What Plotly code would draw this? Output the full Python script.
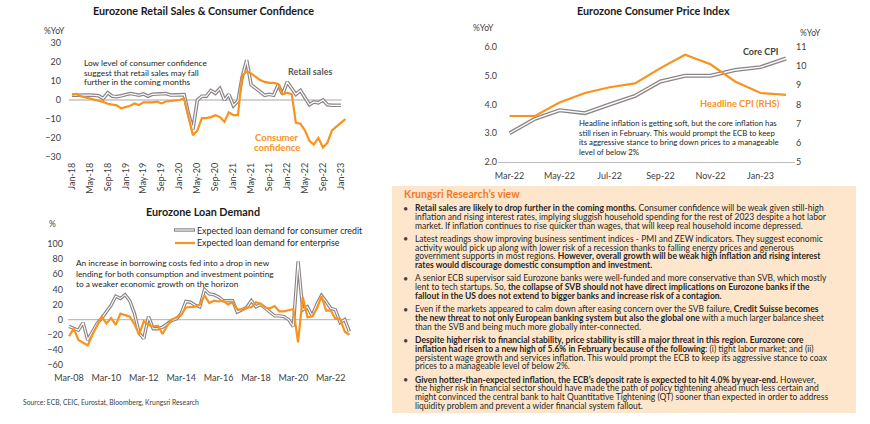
import plotly.graph_objects as go
import pandas as pd

W, H = 870, 424
FONT = "Lato"
ORANGE = "#F7931E"
GRAY_OUT = "#8c8484"
TXT = "#404040"
DARK = "#262626"


def px(x):
    return x / W


def py(y):
    return 1 - y / H


# ---------------- Data ----------------
# Eurozone retail sales & consumer confidence (%YoY, monthly)
retail_months = pd.date_range("2018-01-01", "2023-01-01", freq="MS")
retail_sales = [2.5, 2.6, 2.4, 2.5, 2.6, 2.5, 2.2, 0.8, 3.8, 2.0, 1.8, 2.2,
                3.0, 3.4, 3.0, 2.5, 3.2, 2.0, 3.0, 3.0, 3.2, 3.4, 2.6, 2.6,
                2.8, 2.8, -7.0, -15.5, 0.0, 2.0, 2.0, 5.0, 3.5, 6.0, 0.0, 3.0,
                -3.0, -0.5, 12.0, 21.0, 8.0, 6.0, 4.5, 2.5, 3.0, 2.5, 8.0, 3.0,
                9.5, 6.0, 3.0, 5.0, 1.0, -2.5, -1.0, -1.5, 0.0, -2.5, -2.8, -2.8,
                -2.8]
conf_months = pd.date_range("2018-01-01", "2023-02-01", freq="MS")
consumer_conf = [2.8, 3.2, 2.0, 1.4, 0.5, 0.0, -0.5, -1.0, -2.0, -2.3, -2.8, -4.4,
                 -3.7, -3.0, -1.8, -2.6, -1.2, -1.3, -1.2, -0.9, -1.8, -0.8, -0.5, 0.0,
                 0.0, 0.8, -8.0, -18.5, -16.0, -9.5, -9.5, -9.0, -8.0, -9.0, -11.5, -6.5,
                 -8.0, -8.0, 13.0, 15.0, 14.0, 12.0, 10.5, 9.5, 9.0, 9.0, 8.5, 3.0,
                 3.8, 3.0, -12.0, -12.5, -16.0, -21.5, -23.5, -20.0, -25.0, -22.5, -16.0, -14.0,
                 -12.0, -10.0]

# Eurozone CPI (%YoY)
cpi_months = pd.date_range("2022-03-01", "2023-02-01", freq="MS")
core_cpi = [3.0, 3.5, 3.8, 3.7, 4.0, 4.3, 4.8, 5.0, 5.0, 5.2, 5.3, 5.6]
headline_cpi = [7.4, 7.4, 8.1, 8.6, 8.9, 9.1, 9.9, 10.6, 10.1, 9.2, 8.6, 8.5]

# Eurozone loan demand (%, quarterly)
loan_quarters = pd.date_range("2008-03-01", periods=61, freq="3MS")
loan_consumer = [-9, -11, -14, -4, -27, -16, -5, 2, 11, 19, 31, 28, 33, 25, 8, -18,
                 -25, 4, -12, -12, -10, -5, -1, 1, 8, 24, 23, 19, 17, 40, 34, 33,
                 30, 25, 25, 25, 10, 13, 16, 25, 17, 20, 15, 10, 5, 5, 4, 0,
                 -9, 77, 13, 17, 5, 20, 32, 24, 15, 13, -4, 0, -16]
loan_enterprise = [-22, -12, -27, -31, -34, -20, -7, 4, -5, 2, -7, 8, 6, 4, -6, -20,
                   -2, -7, -9, -8, -19, -8, 0, 3, 6, 16, 16, 17, 20, 32, 22, 25,
                   24, 25, 20, 23, 14, 13, 16, 16, 23, 21, 16, 15, 18, 11, 11, 13,
                   14, -30, 30, 3, 4, 14, 31, 12, 12, 1, 1, -16, -20]

retail_yticks = [-30, -20, -10, 0, 10, 20, 30]
cpi_left_ticks = [2.0, 3.0, 4.0, 5.0, 6.0]
cpi_right_ticks = [5, 6, 7, 8, 9, 10, 11]
loan_yticks = [-60, -40, -20, 0, 20, 40, 60, 80, 100]

# ---------------- Figure ----------------
fig = go.Figure()


def double_line(x, y, xa, ya, w_out=3.6, w_in=1.2):
    fig.add_trace(go.Scatter(x=x, y=y, mode="lines", xaxis=xa, yaxis=ya,
                             line=dict(color=GRAY_OUT, width=w_out), hoverinfo="skip"))
    fig.add_trace(go.Scatter(x=x, y=y, mode="lines", xaxis=xa, yaxis=ya,
                             line=dict(color="white", width=w_in), hoverinfo="skip"))


# Retail chart
double_line(retail_months, retail_sales, "x", "y")
fig.add_trace(go.Scatter(x=conf_months, y=consumer_conf, mode="lines", xaxis="x", yaxis="y",
                         line=dict(color=ORANGE, width=2.2)))
# CPI chart
double_line(cpi_months, core_cpi, "x2", "y2", 4.0, 1.4)
fig.add_trace(go.Scatter(x=cpi_months, y=headline_cpi, mode="lines", xaxis="x2", yaxis="y3",
                         line=dict(color=ORANGE, width=2.2)))
# Loan chart
double_line(loan_quarters, loan_consumer, "x3", "y4", 3.4, 1.1)
fig.add_trace(go.Scatter(x=loan_quarters, y=loan_enterprise, mode="lines", xaxis="x3", yaxis="y4",
                         line=dict(color=ORANGE, width=2.2)))

tickfont = dict(family=FONT, size=9, color=TXT)
common = dict(showgrid=False, zeroline=False, ticks="", tickfont=tickfont, fixedrange=True,
              automargin=False)

layout_axes = dict(
    xaxis=dict(domain=[px(62), px(352)], range=["2017-10-25", "2023-03-17"], type="date",
               tick0="2018-01-01", dtick="M4", tickformat="%b-%y", tickangle=-90,
               anchor="y", showline=False, ticklabelstandoff=3, **common),
    yaxis=dict(domain=[py(157), py(43)], range=[-30, 30], tickvals=retail_yticks,
               anchor="x", showline=False, **common),
    xaxis2=dict(domain=[px(498), px(795)], range=["2022-02-15", "2023-02-12"], type="date",
                tick0="2022-03-01", dtick="M2", tickformat="%b-%y", anchor="y2",
                showline=True, linecolor="#bfbfbf", linewidth=1, ticklabelstandoff=5, **common),
    yaxis2=dict(domain=[py(162), py(47)], range=[2, 6], tickvals=cpi_left_ticks,
                tickformat=".1f", anchor="x2", showline=False, **common),
    yaxis3=dict(range=[5, 11], tickvals=cpi_right_ticks, overlaying="y2", side="right",
                anchor="x2", showline=False, **common),
    xaxis3=dict(domain=[px(64), px(356)], range=["2007-11-24", "2023-07-08"], type="date",
                tick0="2008-03-01", dtick="M24", tickformat="%b-%y", anchor="y4",
                showline=False, ticklabelstandoff=6, **common),
    yaxis4=dict(domain=[py(365), py(244)], range=[-60, 100], tickvals=loan_yticks,
                anchor="x3", showline=False, **common),
)

shapes = [
    dict(type="rect", xref="paper", yref="paper", x0=px(392), x1=px(856), y0=py(413), y1=py(186),
         fillcolor="#FDE6CB", line=dict(width=0), layer="below"),
    dict(type="line", xref="x", yref="y", x0="2017-12-10", x1="2023-01-05", y0=0, y1=0,
         line=dict(color="#a6a6a6", width=1), layer="below"),
    dict(type="line", xref="x3", yref="y4", x0="2008-02-10", x1="2023-03-25", y0=0, y1=0,
         line=dict(color="#bfbfbf", width=1.3), layer="below"),
    # legend samples (loan chart)
    dict(type="line", xref="paper", yref="paper", x0=px(174), x1=px(195), y0=py(230), y1=py(230),
         line=dict(color=GRAY_OUT, width=3.4)),
    dict(type="line", xref="paper", yref="paper", x0=px(175), x1=px(194), y0=py(230), y1=py(230),
         line=dict(color="white", width=1.1)),
    dict(type="line", xref="paper", yref="paper", x0=px(175), x1=px(195), y0=py(243), y1=py(243),
         line=dict(color=ORANGE, width=2.2)),
]

annotations = []


def txt(x, y, s, size=8.5, color=TXT, xanchor="left"):
    annotations.append(dict(x=px(x), y=py(y), xref="paper", yref="paper", text=s,
                            showarrow=False, xanchor=xanchor, yanchor="middle",
                            borderpad=0,
                            font=dict(family=FONT, size=size, color=color)))


# Titles
txt(203, 11, "<b>Eurozone Retail Sales & Consumer Confidence</b>", 10.8, "#1a1a1a", "center")
txt(653, 11, "<b>Eurozone Consumer Price Index</b>", 10.8, "#1a1a1a", "center")
txt(203, 211, "<b>Eurozone Loan Demand</b>", 10.8, "#1a1a1a", "center")

# Axis units
txt(54, 31, "%YoY", 8.5, TXT, "center")
txt(483, 28, "%YoY", 8.5, TXT, "center")
txt(810, 33, "%YoY", 8.5, TXT, "center")
txt(52, 224, "%", 8.5, TXT, "center")

# Retail chart notes
for i, line in enumerate(["Low level of consumer confidence",
                          "suggest that retail sales may fall",
                          "further in the coming months"]):
    txt(83, 63 + i * 9.6, line, 8.3, DARK)
txt(310, 72, "<b>Retail sales</b>", 9, "#595959", "center")
txt(277, 137, "<b>Consumer</b>", 9.5, ORANGE, "center")
txt(277, 147, "<b>confidence</b>", 9.5, ORANGE, "center")

# CPI notes
txt(760, 52, "<b>Core CPI</b>", 9, "#404040", "center")
txt(740, 104, "<b>Headline CPI (RHS)</b>", 9.3, ORANGE, "center")
for i, line in enumerate(["Headline inflation is getting soft, but the core inflation has",
                          "still risen in February. This would prompt the ECB to keep",
                          "its aggressive stance to bring down prices to a manageable",
                          "level of below 2%"]):
    txt(578, 123 + i * 9.6, line, 7.8, DARK)

# Loan chart legend + note
txt(196, 230, "Expected loan demand for consumer credit", 8.8, DARK)
txt(196, 243, "Expected loan demand for enterprise", 8.8, DARK)
for i, line in enumerate(["An increase in borrowing costs fed into a drop in new",
                          "lending for both consumption and investment pointing",
                          "to a weaker economic growth on the horizon"]):
    txt(75, 263 + i * 10.5, line, 8.3, DARK)

txt(22, 402, "Source: ECB, CEIC, Eurostat, Bloomberg, Krungsri Research", 6.8, TXT)

# Text panel
txt(403, 194, "<b>Krungsri Research\u2019s view</b>", 10.5, "#F47920")
bullets = [
    ["<b>Retail sales are likely to drop further in the coming months.</b> Consumer confidence will be weak given still-high",
     "inflation and rising interest rates, implying sluggish household spending for the rest of 2023 despite a hot labor",
     "market. If inflation continues to rise quicker than wages, that will keep real household income depressed."],
    ["Latest readings show improving business sentiment indices - PMI and ZEW indicators. They suggest economic",
     "activity would pick up along with lower risk of a recession thanks to falling energy prices and generous",
     "government supports in most regions. <b>However, overall growth will be weak high inflation and rising interest</b>",
     "<b>rates would discourage domestic consumption and investment.</b>"],
    ["A senior ECB supervisor said Eurozone banks were well-funded and more conservative than SVB, which mostly",
     "lent to tech startups. So, <b>the collapse of SVB should not have direct implications on Eurozone banks if the</b>",
     "<b>fallout in the US does not extend to bigger banks and increase risk of a contagion.</b>"],
    ["Even if the markets appeared to calm down after easing concern over the SVB failure, <b>Credit Suisse becomes</b>",
     "<b>the new threat to not only European banking system but also the global one</b> with a much larger balance sheet",
     "than the SVB and being much more globally inter-connected."],
    ["<b>Despite higher risk to financial stability, price stability is still a major threat in this region. Eurozone core</b>",
     "<b>inflation had risen to a new high of 5.6% in February because of the following</b>: (i) tight labor market; and (ii)",
     "persistent wage growth and services inflation. This would prompt the ECB to keep its aggressive stance to coax",
     "prices to a manageable level of below 2%."],
    ["<b>Given hotter-than-expected inflation, the ECB\u2019s deposit rate is expected to hit 4.0% by year-end.</b> However,",
     "the higher risk in financial sector should have made the path of policy tightening ahead much less certain and",
     "might convinced the central bank to halt Quantitative Tightening (QT) sooner than expected in order to address",
     "liquidity problem and prevent a wider financial system fallout."],
]
yy = 208.0
LS, GAP = 8.8, 4.4
for b in bullets:
    txt(405, yy, "\u2022", 9, "#404040", "center")
    for line in b:
        txt(414, yy, line, 8.5, DARK)
        yy += LS
    yy += GAP

fig.update_layout(
    width=W, height=H, margin=dict(l=0, r=0, t=0, b=0, autoexpand=False),
    paper_bgcolor="white", plot_bgcolor="white", showlegend=False,
    font=dict(family=FONT, color=TXT),
    shapes=shapes, annotations=annotations,
    **layout_axes,
)

fig.write_html("out.html", config={"displayModeBar": False},
               post_script="document.body.style.margin='0px';document.body.style.overflow='hidden';")
